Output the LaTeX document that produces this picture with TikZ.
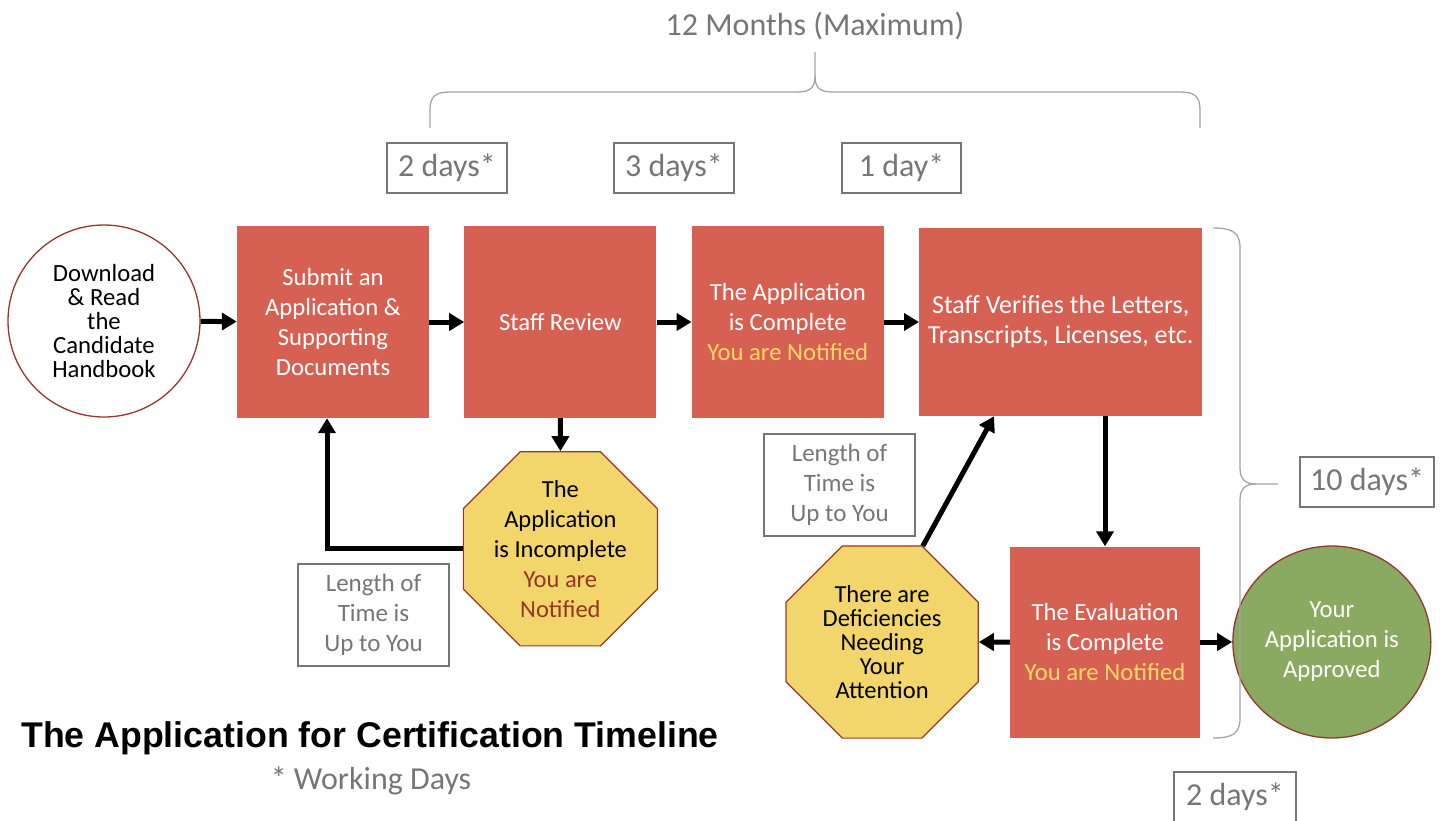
\documentclass[tikz,border=0pt]{standalone}
\usepackage{fontspec}
\setmainfont{Carlito}
\newfontfamily\headfont{Liberation Sans}
\usetikzlibrary{positioning,shapes.geometric,arrows.meta}

\definecolor{boxred}{RGB}{214,97,82}
\definecolor{octyellow}{RGB}{242,214,107}
\definecolor{okgreen}{RGB}{138,170,98}
\definecolor{rimred}{RGB}{150,55,45}
\definecolor{notifyellow}{RGB}{255,217,102}
\definecolor{notifred}{RGB}{150,52,40}
\definecolor{labelgray}{RGB}{118,118,118}
\definecolor{bracegray}{RGB}{165,165,165}

\tikzset{
	stepbox/.style={rectangle, fill=boxred, text=white, minimum width=192pt, minimum height=192pt, inner sep=0pt, align=center, font=\fontsize{24.7}{30}\selectfont},
	stopsign/.style={regular polygon, regular polygon sides=8, minimum size=208pt, inner sep=0pt, fill=octyellow, draw=rimred, line width=1.2pt, align=center, font=\fontsize{24.5}{30}\selectfont},
	daybox/.style={rectangle, draw=labelgray, line width=1.8pt, text=labelgray, inner sep=0pt, minimum height=50pt, font=\fontsize{32}{38}\selectfont},
	waitbox/.style={rectangle, draw=labelgray, line width=1.8pt, text=labelgray, inner sep=0pt, minimum width=151pt, minimum height=102pt, align=center, font=\fontsize{25}{30}\selectfont},
	flow/.style={line width=5pt, -{Triangle[length=15pt,width=17pt]}},
	brace/.style={draw=bracegray, line width=1.3pt},
}

\begin{document}
\begin{tikzpicture}[x=1pt, y=-1pt]
	\useasboundingbox (0,0) rectangle (1440,820);
	% main steps
	\node[circle, draw=rimred, line width=1.3pt, fill=white, minimum size=192pt, inner sep=0pt, align=center, font=\fontsize{24.7}{24}\selectfont] (dl) at (104,321) {Download\\\& Read\\the\\Candidate\\Handbook};
	\node[stepbox] (submit) at (333,322) {Submit an\\Application \&\\Supporting\\Documents};
	\node[stepbox, right=35pt of submit] (review) {Staff Review};
	\node[stepbox, right=35pt of review] (complete) {The Application\\is Complete\\\textcolor{notifyellow}{You are Notified}};
	\node[stepbox, right=35pt of complete, minimum width=283pt, minimum height=188pt, font=\fontsize{26}{30}\selectfont] (verify) {Staff Verifies the Letters,\\Transcripts, Licenses, etc.};
	\node[stepbox, minimum width=190pt, minimum height=191pt] (evaluated) at (1105,642) {The Evaluation\\is Complete\\\textcolor{notifyellow}{You are Notified}};
	\node[stopsign, below=33pt of review] (incomplete) {The\\Application\\is Incomplete\\\textcolor{notifred}{You are}\\\textcolor{notifred}{Notified}};
	\node[stopsign, left=31pt of evaluated, font=\fontsize{24.5}{24}\selectfont] (deficient) {There are\\Deficiencies\\Needing\\Your\\Attention};
	\node[ellipse, right=32pt of evaluated, fill=okgreen, draw=rimred, line width=1.3pt, minimum width=198pt, minimum height=192pt, inner sep=0pt, text=white, align=center, font=\fontsize{24.7}{30}\selectfont] (approved) {Your\\Application is\\Approved};
	%
	\node[waitbox] (wait1) at (373.5,615) {Length of\\Time is\\Up to You};
	\node[waitbox] (wait2) at (839.5,485) {Length of\\Time is\\Up to You};
	\node[daybox, minimum width=120pt] (d2) at (447,168) {2 days*};
	\node[daybox, minimum width=120pt] (d3) at (674,168) {3 days*};
	\node[daybox, minimum width=119pt] (d1) at (901.5,168) {1 day*};
	\node[daybox, minimum width=134pt] (d10) at (1367,482) {10 days*};
	\node[daybox, minimum width=122pt] (dlast) at (1235,797) {2 days*};
	\node[text=labelgray, font=\fontsize{32}{38}\selectfont] (months) at (815,26) {12 Months (Maximum)};
	\node[font=\headfont\bfseries\fontsize{35.7}{40}\selectfont] (title) at (370,738) {The Application for Certification Timeline};
	\node[text=labelgray, font=\fontsize{32}{38}\selectfont] (note) at (371,781) {* Working Days};
	%
	\draw[flow] (dl) -- (submit);
	\draw[flow] (submit) -- (review);
	\draw[flow] (review) -- (complete);
	\draw[flow] (complete) -- (verify);
	\draw[flow] (review) -- (incomplete);
	\draw[flow] (incomplete.west) -| ([xshift=-6pt]submit.south);
	\draw[flow] (verify.south -| evaluated) -- (evaluated);
	\draw[flow] (evaluated) -- (deficient);
	\draw[flow] (evaluated) -- (approved);
	\draw[flow] (deficient.67.5) -- ([xshift=75pt]verify.south west);
	% braces
	\draw[brace] (430,128) -- (430,110) .. controls (430,96) and (436,92) .. (450,92) -- (797,92) .. controls (810,92) and (815,88) .. (815,76) -- (815,52);
	\draw[brace] (815,76) .. controls (815,88) and (820,92) .. (833,92) -- (1180,92) .. controls (1194,92) and (1200,96) .. (1200,110) -- (1200,128);
	\draw[brace] (1213,228) .. controls (1232,228) and (1240,232) .. (1240,248) -- (1240,468) .. controls (1240,480) and (1246,484) .. (1256,484) -- (1278,484);
	\draw[brace] (1256,484) .. controls (1246,484) and (1240,488) .. (1240,500) -- (1240,718) .. controls (1240,734) and (1232,738) .. (1213,738);
\end{tikzpicture}
\end{document}
